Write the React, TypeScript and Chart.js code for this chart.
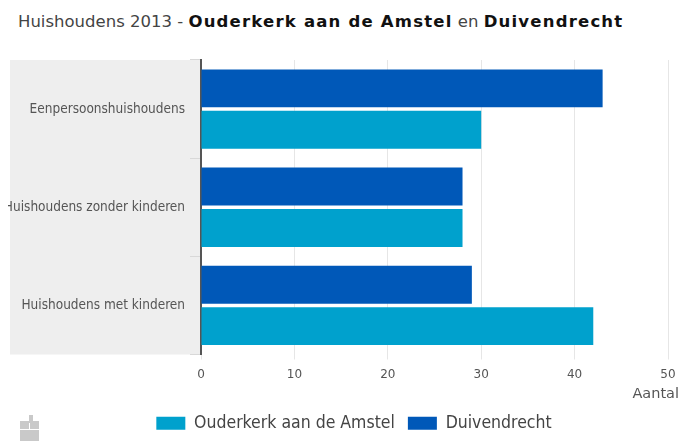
import React, { useEffect, useRef } from "react";
import { Chart, registerables } from "chart.js";

Chart.register(...registerables);

const categories = ["Eenpersoonshuishoudens", "Huishoudens zonder kinderen", "Huishoudens met kinderen"];
const duivendrecht = [43, 28, 29];
const ouderkerk = [30, 28, 42];
const tickValues = [0, 10, 20, 30, 40, 50];
const unitLabel = "Aantal";

const LABEL_FONT = "'DejaVu Sans Condensed', 'DejaVu Sans', sans-serif";
const TEXT_FONT = "'DejaVu Sans', sans-serif";

// Grey panel behind the category labels and the unit caption under the value axis.
const panelPlugin = {
  id: "labelPanel",
  afterLayout(chart: any) {
    // Long category labels run to the canvas edge instead of stopping at the legend inset.
    chart.scales.y.left = 2;
  },
  beforeDraw(chart: any) {
    const { ctx, chartArea } = chart;
    ctx.save();
    ctx.fillStyle = "#eeeeee";
    ctx.fillRect(4, chartArea.top, chartArea.left - 4, chartArea.bottom - chartArea.top);
    ctx.restore();
  },
  afterDraw(chart: any) {
    const { ctx, chartArea } = chart;
    ctx.save();
    ctx.fillStyle = "#555555";
    ctx.font = `14.5px ${TEXT_FONT}`;
    ctx.textAlign = "right";
    ctx.textBaseline = "middle";
    ctx.fillText(unitLabel, chart.width - 1, chartArea.bottom + 40);
    ctx.restore();
  },
};

export default function App() {
  const canvasRef = useRef<HTMLCanvasElement | null>(null);

  useEffect(() => {
    const chart = new Chart(canvasRef.current as HTMLCanvasElement, {
      type: "bar",
      plugins: [panelPlugin],
      data: {
        labels: categories,
        datasets: [
          { label: "Duivendrecht", data: duivendrecht, backgroundColor: "#0058b8" },
          { label: "Ouderkerk aan de Amstel", data: ouderkerk, backgroundColor: "#00a1cd" },
        ],
      },
      options: {
        indexAxis: "y",
        animation: false,
        responsive: false,
        categoryPercentage: 0.844,
        barPercentage: 0.915,
        layout: { padding: { top: 60, left: 34, right: 12, bottom: -1 } },
        plugins: {
          title: { display: false },
          tooltip: { enabled: false },
          legend: {
            position: "bottom",
            reverse: true,
            labels: {
              boxWidth: 29,
              boxHeight: 13,
              padding: 13,
              color: "#444444",
              font: { family: LABEL_FONT, size: 17.5 },
            },
          },
        },
        scales: {
          x: {
            min: 0,
            max: 50,
            afterBuildTicks(scale: any) {
              scale.ticks = tickValues.map((value) => ({ value }));
            },
            afterFit(scale: any) {
              scale.height = 47;
              scale.paddingRight = 0;
            },
            border: { display: false },
            grid: { color: "#e6e6e6", tickLength: 5, tickColor: "#e6e6e6" },
            ticks: { color: "#555555", font: { family: TEXT_FONT, size: 12 }, padding: 8, maxRotation: 0 },
          },
          y: {
            afterFit(scale: any) {
              scale.width = 161;
            },
            border: { display: true, color: "#555555", width: 2 },
            grid: { drawOnChartArea: false, tickLength: 11, tickColor: "#d8d8d8", offset: true },
            ticks: { color: "#555555", font: { family: LABEL_FONT, size: 13.5 }, padding: 5, autoSkip: false },
          },
        },
      },
    } as any);
    return () => chart.destroy();
  }, []);

  const strong = { color: "#111111", letterSpacing: 1.2 };

  return (
    <div style={{ position: "fixed", left: 0, top: 0, width: 680, height: 441, overflow: "hidden", background: "#fff" }}>
      <div
        style={{
          position: "absolute",
          left: 18,
          top: 12,
          fontFamily: TEXT_FONT,
          fontSize: 16.5,
          whiteSpace: "nowrap",
          color: "#444444",
        }}
      >
        Huishoudens 2013 - <b style={strong}>Ouderkerk aan de Amstel</b> en <b style={strong}>Duivendrecht</b>
      </div>
      <canvas ref={canvasRef} width={674} height={441} style={{ position: "absolute", left: 6, top: 0 }} />
      <svg width={22} height={26} style={{ position: "absolute", left: 18, top: 415 }}>
        <g fill="#c9c9c9">
          <rect x={11} y={0} width={4} height={8} />
          <rect x={2} y={6} width={9} height={8} />
          <rect x={12} y={6} width={9} height={8} />
          <rect x={2} y={15} width={19} height={11} />
        </g>
      </svg>
    </div>
  );
}
